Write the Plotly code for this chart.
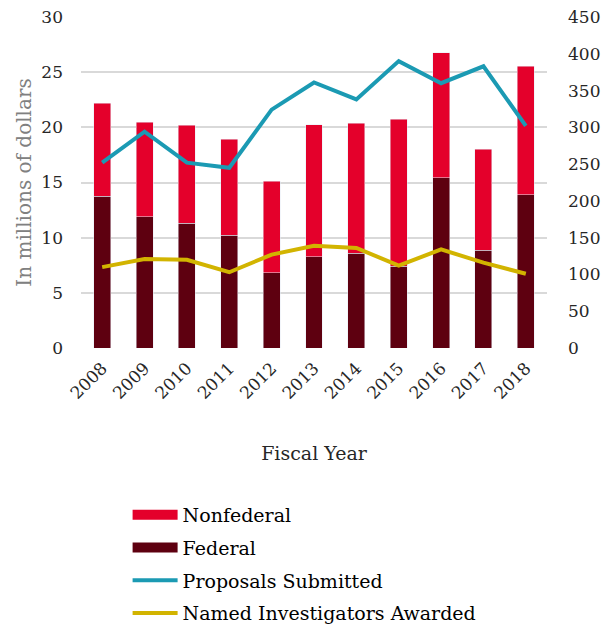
import plotly.graph_objects as go

years = ["2008", "2009", "2010", "2011", "2012", "2013", "2014", "2015", "2016", "2017", "2018"]
total_funding = [22.2, 20.45, 20.2, 18.9, 15.1, 20.25, 20.35, 20.75, 26.75, 18.0, 25.55]
federal = [13.75, 11.9, 11.3, 10.2, 6.8, 8.25, 8.6, 7.4, 15.45, 8.85, 13.9]
nonfederal = [round(t - f, 2) for t, f in zip(total_funding, federal)]
proposals = [252, 294, 252, 245, 324, 361, 338, 390, 360, 383, 302]
named_investigators = [110, 121, 120, 103, 127, 139, 136, 112, 134, 116, 101]

serif = "'DejaVu Serif', Georgia, serif"
c_nonfed = "#E4002B"
c_fed = "#5E0010"
c_prop = "#1B9AB3"
c_named = "#D2B400"

fig = go.Figure()
fig.add_trace(go.Bar(x=years, y=federal, name="Federal", marker_color=c_fed, showlegend=False))
fig.add_trace(go.Bar(x=years, y=nonfederal, name="Nonfederal", marker_color=c_nonfed, showlegend=False))
fig.add_trace(go.Scatter(x=years, y=proposals, name="Proposals Submitted", mode="lines",
                         line=dict(color=c_prop, width=4), yaxis="y2", showlegend=False))
fig.add_trace(go.Scatter(x=years, y=named_investigators, name="Named Investigators Awarded",
                         mode="lines", line=dict(color=c_named, width=4), yaxis="y2", showlegend=False))

# legend entries (wide swatches like the original)
legend_items = [("Nonfederal", c_nonfed, 10), ("Federal", c_fed, 10),
                ("Proposals Submitted", c_prop, 4), ("Named Investigators Awarded", c_named, 4)]
for i, (nm, col, w) in enumerate(legend_items):
    fig.add_trace(go.Scatter(x=[None], y=[None], name=nm, mode="lines",
                             line=dict(color=col, width=w), legendrank=i + 1,
                             legendgroup=f"g{i}", showlegend=True, hoverinfo="skip"))

fig.update_layout(
    width=607, height=630,
    margin=dict(l=81, r=60, t=17, b=282),
    paper_bgcolor="white", plot_bgcolor="white",
    barmode="stack", bargap=0.6,
    font=dict(family=serif, color="#262626", size=16),
    xaxis=dict(tickangle=-45, tickfont=dict(size=17, color="#262626"), automargin=False,
               title=dict(text="Fiscal Year", font=dict(size=19, color="#262626"), standoff=44),
               showline=False, ticks="", ticklabelstandoff=6),
    yaxis=dict(range=[0, 30], dtick=5, gridcolor="#d9d9d9", gridwidth=1.5, zeroline=False,
               tickfont=dict(size=17, color="#262626"), automargin=False, ticklabelstandoff=17,
               title=dict(text="In millions of dollars", font=dict(size=20, color="#808080"), standoff=4)),
    yaxis2=dict(range=[0, 450], dtick=50, overlaying="y", side="right", showgrid=False,
                zeroline=False, automargin=False, ticklabelstandoff=20,
                tickfont=dict(size=17, color="#262626")),
    legend=dict(orientation="v", x=0.1, xanchor="left", xref="paper",
                y=1 - 496 / 630, yanchor="top", yref="container",
                font=dict(size=19, color="#000000"), tracegroupgap=5, itemwidth=45,
                traceorder="grouped"),
    showlegend=True,
)

fig.write_html("out.html")
